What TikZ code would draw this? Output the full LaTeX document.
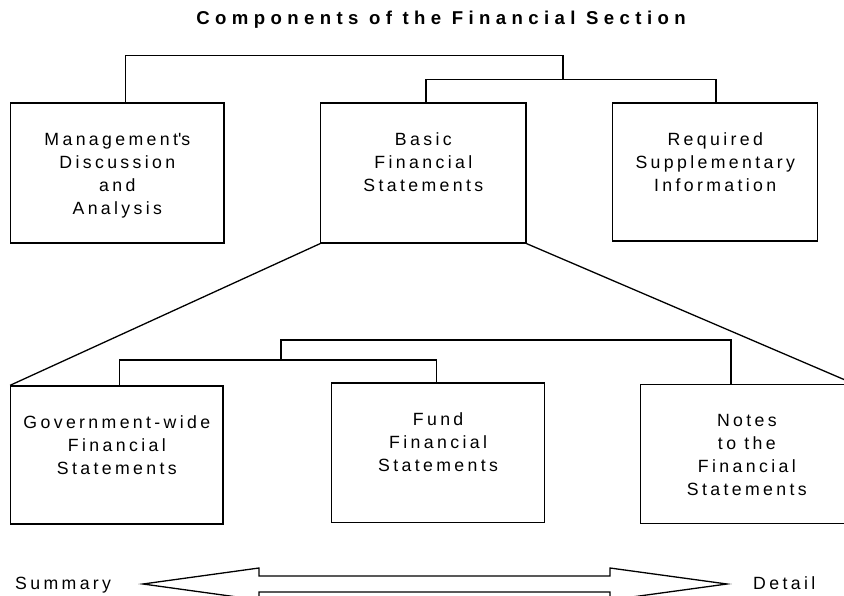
\documentclass[tikz,border=0pt]{standalone}
\usepackage{fontspec}
\setmainfont{Liberation Sans}[LetterSpace=19]
\newfontfamily\titlefont{Liberation Sans}[LetterSpace=29]
\begin{document}
\begin{tikzpicture}[x=1pt,y=-1pt]
\tikzset{
  frame/.style={draw, inner sep=0pt, line width=1.3pt},
  boxtext/.style={font=\fontsize{17.7}{23.2}\selectfont, align=center, inner sep=0pt, anchor=north},
  plain/.style={font=\fontsize{17.7}{23.2}\selectfont, inner sep=0pt},
  conn/.style={line width=1.3pt},
}
\useasboundingbox (0,0) rectangle (844,596);
\clip (0,0) rectangle (844,596);

% title
\node[inner sep=0pt, anchor=base, font=\titlefont\bfseries\fontsize{18.6}{22}\selectfont] (title) at (441,24.5) {Components of the Financial Section};

% top boxes
\node[frame, minimum width=213.3pt, minimum height=140pt] (b1) at (117.35,173) {};
\node[frame, minimum width=205.3pt, minimum height=140pt] (b2) at (423.35,173) {};
\node[frame, minimum width=205pt, minimum height=138pt] (b3) at (715.2,172) {};

% bottom boxes
\node[frame, minimum width=212.3pt, minimum height=138pt] (b4) at (116.85,455) {};
\node[frame, minimum width=212.8pt, minimum height=139.5pt] (b5) at (438.1,452.75) {};
\node[frame, minimum width=212.3pt, minimum height=139pt] (b6) at (746.85,453.8) {};

% box texts
\node[boxtext] (t1) at ([yshift=-26.3pt]b1.north) {\strut Management\textquotesingle s\\Discussion\\and\\Analysis};
\node[boxtext] (t2) at ([yshift=-26.3pt]b2.north) {\strut Basic\\Financial\\Statements};
\node[boxtext] (t3) at ([yshift=-26.3pt]b3.north) {\strut Required\\Supplementary\\Information};
\node[boxtext] (t4) at ([yshift=-26.3pt]b4.north) {\strut Government-wide\\Financial\\Statements};
\node[boxtext] (t5) at ([yshift=-26.3pt]b5.north) {\strut Fund\\Financial\\Statements};
\node[boxtext] (t6) at ([yshift=-26.3pt]b6.north) {\strut Notes\\to the\\Financial\\Statements};

% connector columns and junctions
\coordinate (x1) at (125.7,0);
\coordinate (x2) at (426,0);
\coordinate (x3) at (716,0);
\coordinate (x4) at (119.3,0);
\coordinate (x5) at (436.7,0);
\coordinate (x6) at (731,0);
\coordinate (ja) at (563,55.7);
\coordinate (jb) at (563,79.3);
\coordinate (jc) at (281,340);
\coordinate (jd) at (281,360);

% top tree
\draw[conn] (b1.north -| x1) |- (ja) -- (jb);
\draw[conn] (b2.north -| x2) |- (jb) -| (b3.north -| x3);

% bottom tree
\draw[conn] (b4.north -| x4) |- (jd) -| (b5.north -| x5);
\draw[conn] (jd) -- (jc) -| (b6.north -| x6);

% expansion lines
\draw[conn] (b2.south west) -- (b4.north west);
\draw[conn] (b2.south east) -- (b6.north east);

% summary / detail
\node[plain, anchor=base west] (sum) at (15,589.3) {Summary};
\node[plain, anchor=base west] (det) at (753,589.3) {Detail};

% double block arrow
\draw[conn, line join=miter]
  (143,584) -- (259,568) -- (259,576) -- (610,576) -- (610,568) -- (727,584)
  -- (610,600) -- (610,592) -- (259,592) -- (259,600) -- cycle;
\end{tikzpicture}
\end{document}
